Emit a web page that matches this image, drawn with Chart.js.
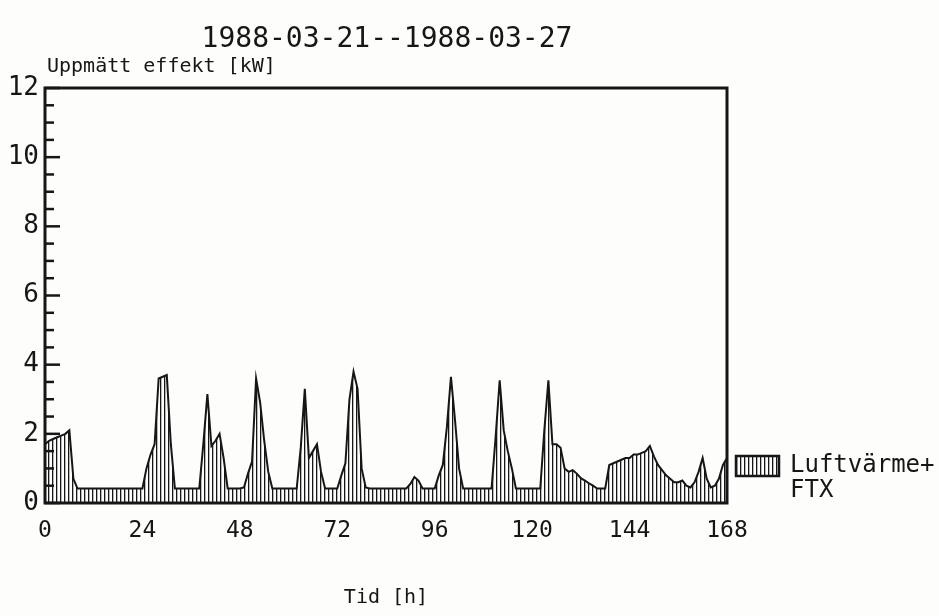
<!DOCTYPE html>
<html><head><meta charset="utf-8">
<script src="https://cdn.jsdelivr.net/npm/chart.js@4.4.0/dist/chart.umd.min.js"></script>
<style>html,body{margin:0;padding:0;background:#fdfdfc;}#wrap{position:relative;width:939px;height:616px;}</style>
</head><body><div id="wrap"><canvas id="c" width="939" height="616"></canvas></div>
<script>
const chartTitle = '1988-03-21--1988-03-27';
const yTitle = 'Uppmätt effekt [kW]';
const xTitle = 'Tid [h]';
const seriesLabel = ['Luftvärme+', 'FTX'];
const xTicks = [0, 24, 48, 72, 96, 120, 144, 168];
const yTicks = [0, 2, 4, 6, 8, 10, 12];
const yMinorStep = 0.5;
const hours = Array.from({length: 169}, (_, i) => i);
const power = [
  1.7,1.8,1.85,1.9,1.95,2.0,2.1,0.7,0.42,
  0.42,0.42,0.42,0.42,0.42,0.42,0.42,0.42,0.42,0.42,0.42,0.42,0.42,0.42,0.42,
  0.42,1.0,1.4,1.7,3.6,3.65,3.7,1.7,0.42,
  0.42,0.42,0.42,0.42,0.42,0.42,
  1.7,3.15,1.65,1.8,2.0,1.3,0.42,
  0.42,0.42,0.42,
  0.45,0.85,1.2,3.6,2.9,1.8,0.9,0.42,
  0.42,0.42,0.42,0.42,0.42,0.42,
  1.6,3.3,1.3,1.5,1.7,0.9,0.42,
  0.42,0.42,0.42,
  0.8,1.15,3.0,3.8,3.3,1.0,0.45,
  0.42,0.42,0.42,0.42,0.42,0.42,0.42,0.42,0.42,0.42,
  0.55,0.75,0.65,0.42,
  0.42,0.42,0.42,
  0.8,1.1,2.2,3.65,2.4,1.0,0.42,
  0.42,0.42,0.42,0.42,0.42,0.42,0.42,
  1.9,3.55,2.1,1.5,1.0,0.42,
  0.42,0.42,0.42,0.42,0.42,0.42,
  2.1,3.55,1.7,1.7,1.6,1.0,0.9,0.95,0.85,0.72,0.65,0.57,0.5,0.42,0.42,0.42,
  1.1,1.15,1.2,1.25,1.3,1.3,1.4,1.4,1.45,1.5,1.65,1.35,1.1,0.95,0.8,0.7,
  0.6,0.6,0.65,0.5,0.45,0.6,0.9,1.3,0.7,0.45,0.5,0.7,1.1,1.3
];

const FONT = "'DejaVu Sans Mono', 'Liberation Mono', monospace";
const INK = '#161616';

function hatchPattern() {
  const c = document.createElement('canvas');
  c.width = 4; c.height = 4;
  const g = c.getContext('2d');
  g.fillStyle = INK;
  g.fillRect(0, 0, 1.3, 4);
  return g.createPattern(c, 'repeat');
}

const framePlugin = {
  id: 'frame',
  afterDatasetsDraw(chart) {
    const {ctx, chartArea: a, scales: {y}} = chart;
    ctx.save();
    ctx.strokeStyle = INK;
    ctx.lineWidth = 3;
    ctx.strokeRect(a.left, a.top, a.right - a.left, a.bottom - a.top);
    ctx.lineWidth = 2.5;
    for (let v = y.min; v <= y.max + 1e-9; v += yMinorStep) {
      const py = y.getPixelForValue(v);
      const major = yTicks.includes(Math.round(v * 100) / 100);
      ctx.beginPath();
      ctx.moveTo(a.left, py);
      ctx.lineTo(a.left + (major ? 15 : 9), py);
      ctx.stroke();
    }
    ctx.fillStyle = INK;
    ctx.textBaseline = 'middle';
    ctx.textAlign = 'center';
    ctx.font = '28px ' + FONT;
    ctx.fillText(chartTitle, 387, 40);
    ctx.textAlign = 'left';
    ctx.font = '20px ' + FONT;
    ctx.fillText(yTitle, 47, 67);
    ctx.textAlign = 'center';
    ctx.font = '20px ' + FONT;
    ctx.fillText(xTitle, 386, 598);
    ctx.fillStyle = hatchPattern();
    ctx.fillRect(736, 456, 43, 20);
    ctx.lineWidth = 2.5;
    ctx.strokeRect(736, 456, 43, 20);
    ctx.fillStyle = INK;
    ctx.textAlign = 'left';
    ctx.font = '24px ' + FONT;
    ctx.fillText(seriesLabel[0], 790, 466);
    ctx.fillText(seriesLabel[1], 790, 491);
    ctx.restore();
  }
};

new Chart(document.getElementById('c'), {
  type: 'line',
  data: {
    datasets: [{
      data: hours.map((h, i) => ({x: h, y: power[i]})),
      borderColor: INK,
      borderWidth: 2,
      backgroundColor: hatchPattern(),
      fill: 'origin',
      pointRadius: 0,
      tension: 0
    }]
  },
  options: {
    responsive: false,
    animation: false,
    events: [],
    layout: {padding: {top: 88, right: 212, bottom: 0, left: 0}},
    plugins: {legend: {display: false}, title: {display: false}, tooltip: {enabled: false}},
    scales: {
      x: {
        type: 'linear', min: 0, max: 168,
        afterBuildTicks: s => { s.ticks = xTicks.map(v => ({value: v})); },
        ticks: {font: {family: FONT, size: 23}, color: INK, padding: 14, maxRotation: 0, autoSkip: false},
        grid: {display: false, drawTicks: false},
        border: {display: false},
        afterFit: s => { s.height = 113; }
      },
      y: {
        type: 'linear', min: 0, max: 12,
        afterBuildTicks: s => { s.ticks = yTicks.map(v => ({value: v})); },
        ticks: {font: {family: FONT, size: 26}, color: INK, padding: 6, autoSkip: false},
        grid: {display: false, drawTicks: false},
        border: {display: false},
        afterFit: s => { s.width = 45; }
      }
    }
  },
  plugins: [framePlugin]
});
</script>
</body></html>
